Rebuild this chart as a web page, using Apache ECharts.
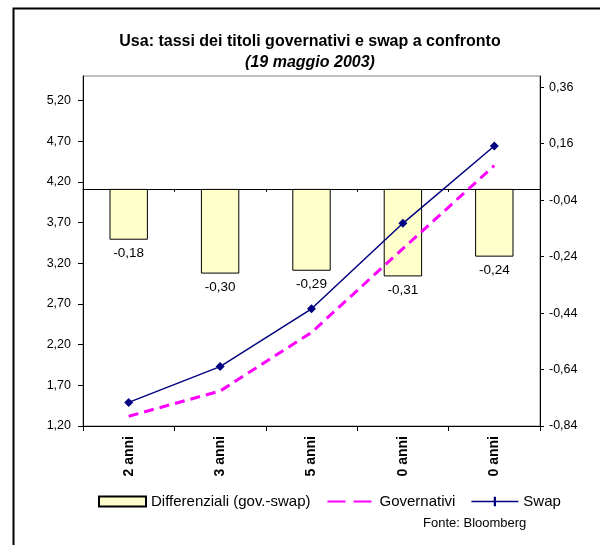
<!DOCTYPE html>
<html>
<head>
<meta charset="utf-8">
<script src="https://cdn.jsdelivr.net/npm/echarts@6/dist/echarts.min.js"></script>
<style>
  html, body { margin: 0; padding: 0; background: #fff; }
  #chart { width: 600px; height: 545px; }
</style>
</head>
<body>
<div id="chart"></div>
<script>
// categorie (scadenze), come nel grafico originale
var categories = ['2 anni', '3 anni', '5 anni', '0 anni', '0 anni'];
// differenziali gov.-swap (asse destro)
var differenziali = [-0.18, -0.30, -0.29, -0.31, -0.24];
// tassi (asse sinistro)
var governativi = [1.32, 1.63, 2.35, 3.38, 4.40];
var swap = [1.49, 1.93, 2.64, 3.69, 4.64];
// etichette assi
var leftTicks = [1.2, 1.7, 2.2, 2.7, 3.2, 3.7, 4.2, 4.7, 5.2];
var rightTicks = [-0.84, -0.64, -0.44, -0.24, -0.04, 0.16, 0.36];

var FONT = '"Liberation Sans", Arial, sans-serif';
function virgola(v) { return Number(v).toFixed(2).replace('.', ','); }

var chart = echarts.init(document.getElementById('chart'));

var option = {
  animation: false,
  backgroundColor: '#fff',
  textStyle: { fontFamily: FONT, color: '#000' },
  title: {
    text: 'Usa: tassi dei titoli governativi e swap a confronto',
    subtext: '(19 maggio 2003)',
    left: 305,
    textAlign: 'center',
    top: 29,
    itemGap: 5,
    textStyle: { fontFamily: FONT, fontSize: 16, fontWeight: 'bold', color: '#000' },
    subtextStyle: { fontFamily: FONT, fontSize: 16, fontWeight: 'bold', fontStyle: 'italic', color: '#000' }
  },
  grid: {
    left: 83,
    right: 60,
    top: 76,
    bottom: 119,
    show: true,
    borderColor: '#808080',
    borderWidth: 1,
    backgroundColor: 'transparent'
  },
  legend: {
    left: 93,
    top: 489,
    itemWidth: 47,
    itemHeight: 10,
    itemGap: 16,
    textStyle: { fontFamily: FONT, fontSize: 15, color: '#000' },
    data: [
      { name: 'Differenziali (gov.-swap)', icon: 'rect' },
      { name: 'Governativi', itemStyle: { opacity: 0 }, lineStyle: { type: [18, 8] } },
      { name: 'Swap', icon: 'path://M0,4.3h50v1.6h-50z M23.8,0h2.4v10h-2.4z' }
    ]
  },
  xAxis: [
    {
      type: 'category',
      data: categories,
      position: 'bottom',
      boundaryGap: true,
      axisLine: { onZero: false, lineStyle: { color: '#000', width: 1 } },
      axisTick: { show: true, inside: false, length: 5, interval: 0, lineStyle: { color: '#000' } },
      axisLabel: {
        rotate: 90,
        interval: 0,
        margin: 10,
        fontFamily: FONT,
        fontSize: 14,
        fontWeight: 'bold',
        color: '#000'
      },
      splitLine: { show: false }
    },
    {
      // linea dello zero dei differenziali
      type: 'category',
      data: categories,
      position: 'bottom',
      boundaryGap: true,
      axisLine: { onZero: true, onZeroAxisIndex: 1, lineStyle: { color: '#000', width: 1 } },
      axisTick: { show: true, length: 3, interval: 0, lineStyle: { color: '#000' } },
      axisLabel: { show: false },
      splitLine: { show: false }
    }
  ],
  yAxis: [
    {
      type: 'value',
      position: 'left',
      min: 1.2,
      max: 5.5,
      axisLine: { show: true, lineStyle: { color: '#000', width: 1 } },
      axisTick: { show: true, length: 5, customValues: leftTicks, lineStyle: { color: '#000' } },
      axisLabel: {
        customValues: leftTicks,
        margin: 12,
        fontFamily: FONT,
        fontSize: 12.5,
        color: '#000',
        formatter: virgola
      },
      splitLine: { show: false }
    },
    {
      type: 'value',
      position: 'right',
      min: -0.84,
      max: 0.40,
      axisLine: { show: true, lineStyle: { color: '#000', width: 1 } },
      axisTick: { show: true, length: 4, customValues: rightTicks, lineStyle: { color: '#000' } },
      axisLabel: {
        customValues: rightTicks,
        margin: 9,
        fontFamily: FONT,
        fontSize: 12.5,
        color: '#000',
        formatter: virgola
      },
      splitLine: { show: false }
    }
  ],
  series: [
    {
      name: 'Differenziali (gov.-swap)',
      type: 'bar',
      xAxisIndex: 1,
      yAxisIndex: 1,
      data: differenziali,
      barWidth: '42%',
      itemStyle: { color: '#FFFFCC', borderColor: '#000', borderWidth: 1 },
      label: {
        show: true,
        position: 'bottom',
        distance: 7,
        fontFamily: FONT,
        fontSize: 13.5,
        color: '#000',
        formatter: function (p) { return virgola(p.value); }
      },
      z: 2
    },
    {
      name: 'Governativi',
      type: 'line',
      xAxisIndex: 0,
      yAxisIndex: 0,
      data: governativi,
      symbol: 'none',
      lineStyle: { color: '#FF00FF', width: 3, type: [10, 6] },
      itemStyle: { color: '#FF00FF' },
      z: 3
    },
    {
      name: 'Swap',
      type: 'line',
      xAxisIndex: 0,
      yAxisIndex: 0,
      data: swap,
      symbol: 'diamond',
      symbolSize: 9,
      lineStyle: { color: '#000080', width: 1.5 },
      itemStyle: { color: '#000080' },
      z: 4
    }
  ],
  graphic: [
    {
      type: 'rect',
      left: 11,
      top: 6,
      shape: { width: 700, height: 700 },
      style: { fill: 'none', stroke: '#000', lineWidth: 2 },
      silent: true
    },
    {
      type: 'text',
      left: 423,
      top: 517,
      style: { text: 'Fonte: Bloomberg', fontFamily: FONT, fontSize: 13, fill: '#000' }
    }
  ]
};

chart.setOption(option);
</script>
</body>
</html>
